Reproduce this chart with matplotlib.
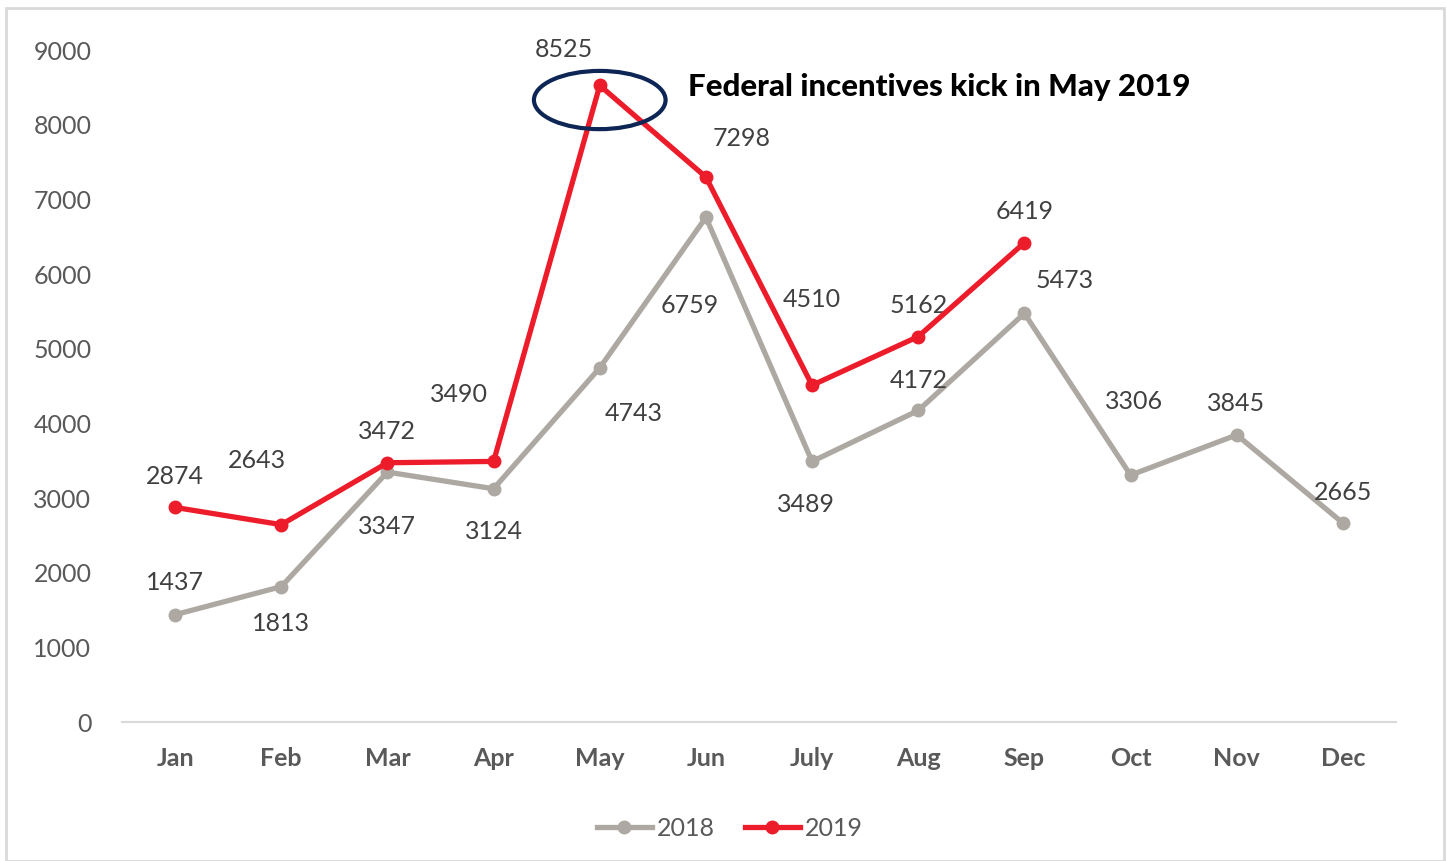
import matplotlib.pyplot as plt
from matplotlib.patches import Ellipse, Rectangle

months = ['Jan', 'Feb', 'Mar', 'Apr', 'May', 'Jun', 'July', 'Aug', 'Sep', 'Oct', 'Nov', 'Dec']
sales_2018 = [1437, 1813, 3347, 3124, 4743, 6759, 3489, 4172, 5473, 3306, 3845, 2665]
sales_2019 = [2874, 2643, 3472, 3490, 8525, 7298, 4510, 5162, 6419]

# label offsets in pixels (dx, dy), dy positive = up
off_2018 = [(0, 32), (0, -37), (0, -54), (0, -43), (34, -46), (-16, -88),
            (-6, -43), (0, 30), (40, 33), (3, 74), (-1, 31), (0, 31)]
off_2019 = [(0, 31), (-24, 64), (0, 31), (-35, 67), (-36, 36), (36, 39),
            (0, 86), (0, 31), (0, 31)]

c18 = '#ADA9A2'
c19 = '#ED1C2A'
txt = '#595959'
plt.rcParams['font.family'] = ['Lato', 'DejaVu Sans']

fig = plt.figure(figsize=(14.47, 8.61), dpi=100)
fig.patches.append(Rectangle((6 / 1447, 0), 1438 / 1447, 1 - 8 / 861, transform=fig.transFigure,
                             fill=False, edgecolor='#D9D9D9', lw=2))
ax = fig.add_axes([122 / 1447, 1 - 722 / 861, (1396 - 122) / 1447, (722 - 50) / 861])

x18 = list(range(len(sales_2018)))
x19 = list(range(len(sales_2019)))
ax.plot(x18, sales_2018, color=c18, lw=3.8, marker='o', ms=9, label='2018', zorder=3)
ax.plot(x19, sales_2019, color=c19, lw=3.8, marker='o', ms=9, label='2019', zorder=4)

for i, v in enumerate(sales_2018):
    ax.annotate(str(v), (i, v), xytext=off_2018[i], textcoords='offset pixels',
                ha='center', va='center', fontsize=18, color='#404040')
for i, v in enumerate(sales_2019):
    ax.annotate(str(v), (i, v), xytext=off_2019[i], textcoords='offset pixels',
                ha='center', va='center', fontsize=18, color='#404040')

# highlight around the May 2019 peak
ax.add_patch(Ellipse((4, 8330), 1.24, 780, fill=False, edgecolor='#0D2656', lw=3, zorder=5))
ax.text(4.83, 8500, 'Federal incentives kick in May 2019', fontsize=22.5, fontweight='black',
        color='black', va='center', ha='left')

ax.set_xlim(-0.5, 11.5)
ax.set_ylim(0, 9000)
ax.set_yticks(range(0, 9001, 1000))
ax.set_xticks(x18)
ax.set_xticklabels(months, fontweight='bold', fontsize=18, color=txt)
ax.tick_params(axis='y', labelsize=18, labelcolor=txt, length=0, pad=22)
ax.tick_params(axis='x', length=0, pad=18)
for s in ['top', 'right', 'left']:
    ax.spines[s].set_visible(False)
ax.spines['bottom'].set_color('#D9D9D9')
ax.spines['bottom'].set_linewidth(1.5)

leg = fig.legend(loc='center', bbox_to_anchor=(730 / 1447, 1 - 828 / 861), ncol=2, frameon=False,
                 fontsize=18, handlelength=2.2, columnspacing=1.2, handletextpad=0.2)
for t in leg.get_texts():
    t.set_color(txt)

fig.savefig('out.png', dpi=100)
